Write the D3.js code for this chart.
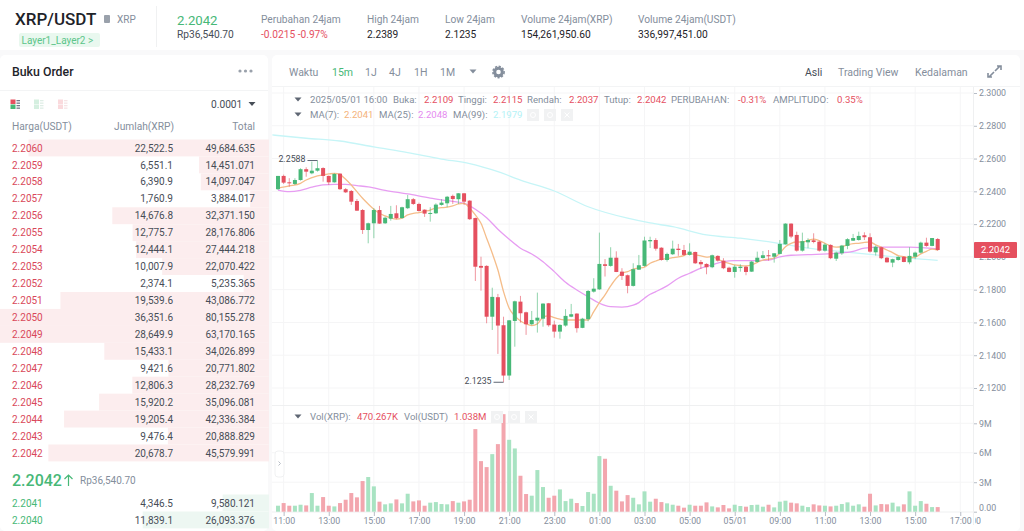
<!DOCTYPE html>
<html>
<head>
<meta charset="utf-8">
<script src="https://cdn.jsdelivr.net/npm/d3@7"></script>
<style>
html, body { margin: 0; padding: 0; background: #f9f9fa; overflow: hidden; }
svg { display: block; font-family: Roboto, "Noto Sans", sans-serif; }
.axis path { display: none; }
.axis line { stroke: #b7bdc6; }
.axis text { fill: #848e9c; font-size: 8.8px; font-family: Roboto, sans-serif; }
</style>
</head>
<body>
<svg width="1024" height="531"></svg>
<script>
var opens = [2.2413,2.2494,2.2455,2.2445,2.2469,2.2535,2.2510,2.2526,2.2542,2.2494,
    2.2455,2.2508,2.2413,2.2402,2.2341,2.2286,2.2164,2.2205,2.2286,2.2205,
    2.2233,2.2266,2.2237,2.2297,2.2352,2.2323,2.2288,2.2262,2.2266,2.2317,
    2.2327,2.2372,2.2352,2.2388,2.2343,2.2237,2.1945,2.1945,2.1635,2.1754,
    2.1583,2.1276,2.1609,2.1727,2.1662,2.1589,2.1611,2.1623,2.1717,2.1587,
    2.1544,2.1581,2.1635,2.1654,2.1567,2.1620,2.1788,2.1802,2.1955,2.1945,
    2.1995,2.1910,2.1888,2.1823,2.1922,2.1945,2.2095,2.2103,2.2056,2.1981,
    2.2016,2.2050,2.2042,2.2012,2.2030,2.1969,2.1957,2.1937,2.2006,2.1977,
    2.1934,2.1908,2.1932,2.1940,2.1910,2.1969,2.1993,2.2010,2.2001,2.2018,
    2.2077,2.2203,2.2134,2.2038,2.2089,2.2101,2.2093,2.2038,2.2073,2.1989,
    2.2022,2.2067,2.2099,2.2103,2.2132,2.2120,2.2028,2.2059,2.1995,2.1965,
    2.1981,2.2001,2.1967,2.2001,2.2026,2.2087,2.2067,2.2109];
var highs = [2.2494,2.2502,2.2480,2.2480,2.2541,2.2547,2.2581,2.2588,2.2547,2.2496,
    2.2510,2.2510,2.2420,2.2408,2.2353,2.2292,2.2209,2.2297,2.2311,2.2245,
    2.2311,2.2315,2.2306,2.2378,2.2359,2.2331,2.2290,2.2303,2.2327,2.2352,
    2.2372,2.2380,2.2389,2.2389,2.2346,2.2240,2.2001,2.1949,2.1812,2.1774,
    2.1635,2.1615,2.1733,2.1762,2.1666,2.1670,2.1782,2.1717,2.1719,2.1611,
    2.1589,2.1681,2.1713,2.1656,2.1628,2.1798,2.1870,2.2148,2.1987,2.2059,
    2.2034,2.1931,2.1892,2.1961,2.2012,2.2123,2.2123,2.2114,2.2059,2.2026,
    2.2099,2.2079,2.2073,2.2083,2.2032,2.1981,2.1961,2.2014,2.2010,2.1992,
    2.1940,2.1951,2.1955,2.1945,2.1975,2.2032,2.2036,2.2042,2.2022,2.2103,
    2.2205,2.2205,2.2154,2.2148,2.2114,2.2144,2.2099,2.2083,2.2077,2.2032,
    2.2073,2.2114,2.2140,2.2154,2.2150,2.2144,2.2069,2.2062,2.2000,2.1989,
    2.2004,2.2004,2.2059,2.2032,2.2093,2.2117,2.2115,2.2115];
var lows = [2.2408,2.2445,2.2428,2.2439,2.2465,2.2489,2.2504,2.2520,2.2459,2.2439,
    2.2453,2.2408,2.2390,2.2317,2.2280,2.2140,2.2083,2.2114,2.2201,2.2201,
    2.2221,2.2230,2.2233,2.2292,2.2317,2.2276,2.2244,2.2215,2.2262,2.2313,
    2.2303,2.2323,2.2323,2.2317,2.2225,2.1853,2.1794,2.1595,2.1554,2.1408,
    2.1235,2.1249,2.1452,2.1599,2.1524,2.1583,2.1538,2.1574,2.1574,2.1507,
    2.1501,2.1574,2.1632,2.1538,2.1565,2.1607,2.1782,2.1798,2.1880,2.1940,
    2.1907,2.1859,2.1778,2.1819,2.1920,2.1940,2.2054,2.2038,2.1977,2.1971,
    2.2012,2.2006,2.2006,2.2008,2.1957,2.1926,2.1894,2.1931,2.1971,2.1925,
    2.1906,2.1873,2.1910,2.1888,2.1908,2.1965,2.1989,2.1977,2.1965,2.2016,
    2.2075,2.2114,2.2032,2.2032,2.2053,2.2083,2.2032,2.2032,2.1986,2.1975,
    2.2012,2.2047,2.2097,2.2099,2.2103,2.2026,2.2008,2.1986,2.1965,2.1937,
    2.1977,2.1967,2.1955,2.1986,2.2022,2.2062,2.2065,2.2037];
var closes = [2.2494,2.2453,2.2449,2.2469,2.2535,2.2520,2.2526,2.2541,2.2494,2.2455,
    2.2506,2.2413,2.2394,2.2337,2.2282,2.2164,2.2205,2.2286,2.2203,2.2239,
    2.2262,2.2236,2.2303,2.2352,2.2323,2.2280,2.2264,2.2268,2.2319,2.2331,
    2.2367,2.2353,2.2388,2.2337,2.2230,2.1940,2.1934,2.1635,2.1756,2.1581,
    2.1276,2.1613,2.1729,2.1656,2.1589,2.1615,2.1629,2.1715,2.1583,2.1544,
    2.1585,2.1640,2.1650,2.1565,2.1623,2.1792,2.1806,2.1957,2.1945,2.1995,
    2.1908,2.1884,2.1823,2.1925,2.1949,2.2100,2.2103,2.2050,2.1981,2.2018,
    2.2050,2.2042,2.2012,2.2032,2.1961,2.1955,2.1937,2.2010,2.1977,2.1931,
    2.1908,2.1940,2.1940,2.1908,2.1971,2.1995,2.2010,2.2004,2.2022,2.2079,
    2.2203,2.2124,2.2038,2.2096,2.2103,2.2091,2.2038,2.2075,2.1992,2.2026,
    2.2069,2.2108,2.2115,2.2128,2.2120,2.2032,2.2062,2.1992,2.1967,2.1986,
    2.2000,2.1969,2.2006,2.2026,2.2087,2.2067,2.2115,2.2042];
// millions of XRP
var volumes = [0.61,0.88,0.61,0.61,0.71,0.64,1.90,0.61,1.49,0.61,
    0.54,0.88,1.22,1.90,1.46,3.12,3.53,2.58,1.02,0.75,
    0.85,1.25,0.85,1.83,1.05,1.15,0.61,0.92,0.98,0.78,
    0.75,1.08,0.92,1.05,1.22,8.41,5.15,4.54,5.86,6.88,
    9.93,7.32,6.44,3.66,1.80,1.63,4.24,2.51,1.42,1.63,
    2.27,1.08,1.32,0.88,0.58,2.00,1.83,5.66,5.39,2.64,
    2.14,1.05,1.69,1.42,0.75,2.07,1.02,1.32,0.98,0.85,
    0.71,0.61,0.41,0.71,0.61,0.61,0.95,0.54,0.44,0.68,
    0.34,0.71,0.58,0.51,0.68,0.71,0.51,0.71,0.44,1.02,
    1.12,0.92,0.85,0.61,0.47,0.75,0.64,0.61,0.54,0.61,
    0.78,0.95,0.61,0.75,0.51,1.83,0.64,0.78,0.75,0.92,
    0.54,0.75,2.07,0.61,1.08,0.81,0.47,0.47];

var ma7Index = [1,3,5,6,8,10,11,12,13,14,15,16,17,18,19,20,21,22,23,24,25,26,27,28,29,30,31,32,33,34,35,36,37,38,39,40,41,42,43,44,45,46,47,48,49,50,51,52,56,57,58,59,60,61,62,63,64,65,66,67,68,69,70,71,72,73,74,75,76,77,78,79,80,81,82,83,84,85,86,87,88,89,90,91,92,93,94,95,96,97,98,99,100,101,102,103,104,105,106,107,108,109,110,111,112,113,114,115,116,117,118];
var ma7Values = [2.2419,2.2433,2.2449,2.2469,2.2494,2.2506,2.2510,2.2502,2.2474,2.2439,2.2398,2.2358,2.2323,2.2291,2.2266,2.2250,2.2237,2.2230,2.2236,2.2256,2.2266,2.2270,2.2278,2.2286,2.2297,2.2300,2.2303,2.2311,2.2323,2.2327,2.2297,2.2256,2.2205,2.2114,2.2022,2.1920,2.1788,2.1687,2.1640,2.1609,2.1591,2.1581,2.1591,2.1632,2.1640,2.1629,2.1620,2.1615,2.1615,2.1666,2.1721,2.1768,2.1823,2.1870,2.1900,2.1910,2.1925,2.1931,2.1937,2.1961,2.1975,2.1986,2.1989,2.1995,2.2000,2.2008,2.2022,2.2012,2.2006,2.1998,2.2001,2.1986,2.1971,2.1961,2.1951,2.1947,2.1945,2.1951,2.1967,2.1981,2.1986,2.1995,2.2022,2.2062,2.2083,2.2091,2.2091,2.2101,2.2108,2.2099,2.2083,2.2067,2.2059,2.2062,2.2073,2.2081,2.2083,2.2089,2.2091,2.2073,2.2059,2.2042,2.2026,2.2008,2.2001,2.1995,2.1998,2.2018,2.2034,2.2047,2.2041];
var ma25Index = [1,3,5,7,9,11,13,15,17,20,24,28,31,34,36,38,40,42,44,46,48,50,52,54,56,58,60,62,64,65,66,67,68,70,72,74,76,78,80,82,85,88,90,92,95,100,103,105,108,113,118];
var ma25Values = [2.2408,2.2398,2.2406,2.2425,2.2439,2.2443,2.2443,2.2435,2.2427,2.2406,2.2384,2.2359,2.2343,2.2327,2.2291,2.2239,2.2169,2.2108,2.2053,2.2018,2.1971,2.1910,2.1845,2.1798,2.1757,2.1717,2.1696,2.1693,2.1705,2.1721,2.1748,2.1772,2.1788,2.1823,2.1870,2.1900,2.1931,2.1951,2.1971,2.1977,2.1977,2.1981,2.2000,2.2010,2.2014,2.2022,2.2034,2.2053,2.2059,2.2059,2.2048];
var ma99Index = [0,6,12,18,24,30,35,40,44,50,56,63,67,71,77,83,89,95,101,107,113,118];
var ma99Values = [2.2744,2.2724,2.2707,2.2671,2.2636,2.2597,2.2569,2.2520,2.2469,2.2402,2.2306,2.2236,2.2207,2.2184,2.2134,2.2114,2.2087,2.2053,2.2032,2.2012,2.1992,2.1979];

var priceTicks = [2.30,2.28,2.26,2.24,2.22,2.20,2.18,2.16,2.14,2.12];
var volumeTicks = [0,3,6,9];
var volumeTickLabels = ['0.00','3M','6M','9M'];
var timeLabels = ['11:00','13:00','15:00','17:00','19:00','21:00','23:00','01:00','03:00','05:00','05/01','09:00','11:00','13:00','15:00','17:00'];

var askPrices = ['2.2060','2.2059','2.2058','2.2057','2.2056','2.2055','2.2054','2.2053','2.2052','2.2051','2.2050','2.2049','2.2048','2.2047','2.2046','2.2045','2.2044','2.2043','2.2042'];
var askAmounts = ['22,522.5','6,551.1','6,390.9','1,760.9','14,676.8','12,775.7','12,444.1','10,007.9','2,374.1','19,539.6','36,351.6','28,649.9','15,433.1','9,421.6','12,806.3','15,920.2','19,205.4','9,476.4','20,678.7'];
var askTotals = [49684.635,14451.071,14097.047,3884.017,32371.150,28176.806,27444.218,22070.422,5235.365,43086.772,80155.278,63170.165,34026.899,20771.802,28232.769,35096.081,42336.384,20888.829,45579.991];
var bidPrices = ['2.2041','2.2040'];
var bidAmounts = ['4,346.5','11,839.1'];
var bidTotals = [9580.121,26093.376];

var RED = '#e5505f', GREEN = '#47b877', GREY = '#848e9c', DARK = '#474d57';

var svg = d3.select('svg');

function label(g, x, y, str, size, color, anchor, weight) {
    return g.append('text')
        .attr('x', x).attr('y', y)
        .attr('font-size', size)
        .attr('fill', color)
        .attr('text-anchor', anchor || 'start')
        .attr('font-weight', weight || 400)
        .text(str);
}

function triangle(g, x, y, color) {
    g.append('path')
        .attr('d', 'M' + (x - 3.5) + ',' + (y - 2) + 'h7l-3.5,4z')
        .attr('fill', color);
}

function iconBoxes(g, xs, y) {
    g.selectAll(null).data(xs).join('rect')
        .attr('x', function(d) { return d; }).attr('y', y)
        .attr('width', 12).attr('height', 12)
        .attr('fill', '#f1f2f3');
    g.append('circle').attr('cx', xs[0] + 6).attr('cy', y + 6).attr('r', 2.5).attr('fill', 'none').attr('stroke', '#fff');
    g.append('circle').attr('cx', xs[1] + 6).attr('cy', y + 6).attr('r', 2.5).attr('fill', 'none').attr('stroke', '#fff');
    g.append('path').attr('d', 'M' + (xs[2] + 3.5) + ',' + (y + 3.5) + 'l5,5m0,-5l-5,5').attr('stroke', '#fff');
}

function bookIcon(g, x, left1, left2, bars) {
    g.append('rect').attr('x', x).attr('y', 99.5).attr('width', 5).attr('height', 4.5).attr('fill', left1);
    g.append('rect').attr('x', x).attr('y', 104.5).attr('width', 5).attr('height', 4.5).attr('fill', left2);
    g.selectAll(null).data([100, 102.5, 105, 107.5]).join('rect')
        .attr('x', x + 6).attr('y', function(d) { return d; })
        .attr('width', 3.5).attr('height', 1.3).attr('fill', bars);
}

// panels
svg.append('rect').attr('width', 1024).attr('height', 50).attr('fill', '#fff');
svg.append('rect').attr('x', 0).attr('y', 55).attr('width', 268).attr('height', 476).attr('rx', 5).attr('fill', '#fff');
svg.append('rect').attr('x', 272).attr('y', 55).attr('width', 748).attr('height', 476).attr('rx', 5).attr('fill', '#fff');

// header
var head = svg.append('g');
label(head, 15, 25, 'XRP/USDT', 17, '#1e2329', 'start', 500);
head.append('rect').attr('x', 104).attr('y', 15).attr('width', 6).attr('height', 8).attr('rx', 1).attr('fill', '#9aa1ab');
label(head, 117, 23, 'XRP', 10, GREY);
head.append('rect').attr('x', 19).attr('y', 33).attr('width', 81).attr('height', 14).attr('rx', 2).attr('fill', '#e9f8ef');
label(head, 21.5, 44, 'Layer1_Layer2 >', 10, '#5cc58a');
head.append('line').attr('x1', 156.5).attr('x2', 156.5).attr('y1', 6).attr('y2', 47).attr('stroke', '#f0f1f2');
label(head, 177, 25, '2.2042', 13.2, GREEN);
label(head, 177, 38, 'Rp36,540.70', 10.2, DARK);
label(head, 261, 23, 'Perubahan 24jam', 10.2, GREY);
label(head, 261, 38, '-0.0215 -0.97%', 10.2, RED);
label(head, 367, 23, 'High 24jam', 10.2, GREY);
label(head, 367, 38, '2.2389', 10.2, '#1e2329');
label(head, 445, 23, 'Low 24jam', 10.2, GREY);
label(head, 445, 38, '2.1235', 10.2, '#1e2329');
label(head, 521, 23, 'Volume 24jam(XRP)', 10.2, GREY);
label(head, 521, 38, '154,261,950.60', 10.2, '#1e2329');
label(head, 638, 23, 'Volume 24jam(USDT)', 10.2, GREY);
label(head, 638, 38, '336,997,451.00', 10.2, '#1e2329');

// order book
var book = svg.append('g');
label(book, 12, 76, 'Buku Order', 12.3, '#1e2329', 'start', 500);
book.selectAll(null).data([240, 245.5, 251]).join('circle')
    .attr('cx', function(d) { return d; }).attr('cy', 71).attr('r', 1.6).attr('fill', '#9aa1ab');
book.append('line').attr('x1', 0).attr('x2', 268).attr('y1', 90.5).attr('y2', 90.5).attr('stroke', '#f3f4f5');
bookIcon(book, 10.5, '#e5505f', '#47b877', '#707a8a');
bookIcon(book, 34, '#d5efe0', '#d5efe0', '#dfeee6');
bookIcon(book, 58, '#fadadd', '#fadadd', '#f6e3e5');
label(book, 211, 108, '0.0001', 10.2, DARK);
triangle(book, 252, 104, DARK);
label(book, 12, 130, 'Harga(USDT)', 10.2, GREY);
label(book, 174, 130, 'Jumlah(XRP)', 10.2, GREY, 'end');
label(book, 255, 130, 'Total', 10.2, GREY, 'end');

var depth = d3.scaleLinear().domain([0, 55570]).range([0, 269]).clamp(true);
var askRow = d3.scalePoint().domain(d3.range(askPrices.length)).range([148, 453]);
var bidRow = d3.scalePoint().domain(d3.range(bidPrices.length)).range([503, 520]);

function drawRows(prices, amounts, totals, rowY, fill, color) {
    var rows = book.append('g').selectAll('g').data(prices).join('g');
    rows.append('rect')
        .attr('x', function(d, i) { return 269 - depth(totals[i]); })
        .attr('y', function(d, i) { return rowY(i) - 8.5; })
        .attr('width', function(d, i) { return depth(totals[i]); })
        .attr('height', 16.9)
        .attr('fill', fill);
    rows.append('text').attr('x', 12).attr('y', function(d, i) { return rowY(i) + 3.6; })
        .attr('font-size', 10).attr('fill', color).text(function(d) { return d; });
    rows.append('text').attr('x', 173).attr('y', function(d, i) { return rowY(i) + 3.6; })
        .attr('font-size', 10).attr('fill', DARK).attr('text-anchor', 'end')
        .text(function(d, i) { return amounts[i]; });
    rows.append('text').attr('x', 255).attr('y', function(d, i) { return rowY(i) + 3.6; })
        .attr('font-size', 10).attr('fill', DARK).attr('text-anchor', 'end')
        .text(function(d, i) { return d3.format(',.3f')(totals[i]); });
}
drawRows(askPrices, askAmounts, askTotals, askRow, '#fcedee', '#d9485a');
drawRows(bidPrices, bidAmounts, bidTotals, bidRow, '#edf7f2', '#47b877');

label(book, 12, 486, '2.2042', 16, GREEN, 'start', 500);
book.append('path').attr('d', 'M68.5,486v-11M64.5,479l4,-4l4,4').attr('fill', 'none').attr('stroke', GREEN).attr('stroke-width', 1.2);
label(book, 80, 484, 'Rp36,540.70', 10, GREY);

// chart toolbar
var bar = svg.append('g');
label(bar, 289, 76, 'Waktu', 10.5, GREY);
label(bar, 332, 76, '15m', 10.5, GREEN);
label(bar, 365, 76, '1J', 10.5, GREY);
label(bar, 389, 76, '4J', 10.5, GREY);
label(bar, 414, 76, '1H', 10.5, GREY);
label(bar, 440, 76, '1M', 10.5, GREY);
triangle(bar, 473, 71.5, GREY);
bar.append('circle').attr('cx', 498.5).attr('cy', 72).attr('r', 3.8).attr('fill', 'none').attr('stroke', '#848e9c').attr('stroke-width', 3);
bar.append('circle').attr('cx', 498.5).attr('cy', 72).attr('r', 5.6).attr('fill', 'none').attr('stroke', '#848e9c').attr('stroke-width', 1.6).attr('stroke-dasharray', '2.2 1.5');
label(bar, 805, 76, 'Asli', 10.5, DARK);
label(bar, 838, 76, 'Trading View', 10.5, GREY);
label(bar, 915, 76, 'Kedalaman', 10.5, GREY);
bar.append('path').attr('d', 'M995,71l5,-5M997,66h4v4M994,72l-5,5M988,73v4h4').attr('fill', 'none').attr('stroke', '#848e9c').attr('stroke-width', 1.6);
bar.append('line').attr('x1', 272).attr('x2', 1020).attr('y1', 86.5).attr('y2', 86.5).attr('stroke', '#f3f4f5');

// scales
var x = d3.scaleLinear().domain([1, 118]).range([278, 937.7]);
var y = d3.scaleLinear().domain([2.12, 2.30]).range([388, 93]);
var yVol = d3.scaleLinear().domain([0, 9]).range([511.7, 423.3]);
var timeTicks = timeLabels.map(function(d, i) { return 2 + 8 * i; });

// grid
var grid = svg.append('g').attr('stroke', '#f5f5f6');
grid.selectAll(null).data(timeTicks).join('line')
    .attr('x1', function(d) { return x(d); }).attr('x2', function(d) { return x(d); })
    .attr('y1', 87).attr('y2', 512);
grid.selectAll(null).data(priceTicks).join('line')
    .attr('x1', 272).attr('x2', 974)
    .attr('y1', function(d) { return y(d); }).attr('y2', function(d) { return y(d); });
grid.selectAll(null).data(volumeTicks.slice(1)).join('line')
    .attr('x1', 272).attr('x2', 974)
    .attr('y1', function(d) { return yVol(d); }).attr('y2', function(d) { return yVol(d); });
svg.append('line').attr('x1', 272).attr('x2', 974).attr('y1', 405.5).attr('y2', 405.5).attr('stroke', '#eff0f1');
svg.append('line').attr('x1', 272).attr('x2', 974).attr('y1', 512).attr('y2', 512).attr('stroke', '#eff0f1');
svg.append('line').attr('x1', 973.5).attr('x2', 973.5).attr('y1', 87).attr('y2', 525).attr('stroke', '#eff0f1');

// axes
svg.append('g').attr('class', 'axis').attr('transform', 'translate(974,0)')
    .call(d3.axisRight(y).tickValues(priceTicks).tickFormat(d3.format('.4f')).tickSize(3).tickPadding(2));
var volAxis = svg.append('g').attr('class', 'axis').attr('transform', 'translate(974,0)')
    .call(d3.axisRight(yVol).tickValues(volumeTicks).tickFormat(function(d, i) { return volumeTickLabels[i]; }).tickSize(3).tickPadding(2));
// the zero label sits above its tick in the reference
volAxis.selectAll('.tick text').filter(function(d) { return d === 0; }).attr('y', -4);
svg.append('g').attr('class', 'axis').attr('transform', 'translate(0,512)')
    .call(d3.axisBottom(x).tickValues(timeTicks).tickFormat(function(d, i) { return timeLabels[i]; }).tickSize(4).tickPadding(2));
// next time label is cut off by the price axis
svg.append('clipPath').attr('id', 'cut').append('rect').attr('x', 975).attr('y', 512).attr('width', 6).attr('height', 14);
label(svg, 971, 524, '00', 8.8, GREY).attr('clip-path', 'url(#cut)');

// volume
var idx = d3.range(volumes.length);
function isUp(i) { return closes[i] >= opens[i]; }
svg.append('g').selectAll('rect').data(idx).join('rect')
    .attr('x', function(i) { return x(i + 1) - 2; })
    .attr('y', function(i) { return yVol(volumes[i]); })
    .attr('width', 4)
    .attr('height', function(i) { return yVol(0) - yVol(volumes[i]); })
    .attr('fill', function(i) { return isUp(i) ? '#a8e3c2' : '#f3a6ae'; });

// moving averages
function drawMa(indexes, values, color) {
    var line = d3.line()
        .x(function(d, i) { return x(indexes[i]); })
        .y(function(d) { return y(d); })
        .curve(d3.curveMonotoneX);
    svg.append('path').datum(values)
        .attr('d', line)
        .attr('fill', 'none')
        .attr('stroke', color)
        .attr('stroke-width', 1.3);
}
drawMa(ma99Index, ma99Values, '#c6f5f7');
drawMa(ma25Index, ma25Values, '#e79df2');
drawMa(ma7Index, ma7Values, '#f5bd8a');

// candles
var candles = svg.append('g').selectAll('g').data(idx).join('g');
candles.append('line')
    .attr('x1', function(i) { return x(i + 1); }).attr('x2', function(i) { return x(i + 1); })
    .attr('y1', function(i) { return y(highs[i]); }).attr('y2', function(i) { return y(lows[i]); })
    .attr('stroke', function(i) { return isUp(i) ? GREEN : RED; })
    .attr('stroke-opacity', 0.6);
candles.append('rect')
    .attr('x', function(i) { return x(i + 1) - 2; })
    .attr('y', function(i) { return y(Math.max(opens[i], closes[i])); })
    .attr('width', 4)
    .attr('height', function(i) { return Math.max(1, Math.abs(y(opens[i]) - y(closes[i]))); })
    .attr('fill', function(i) { return isUp(i) ? GREEN : RED; });

// high and low markers
var marks = svg.append('g');
var hi = d3.max(highs), lo = d3.min(lows);
var hiX = x(highs.indexOf(hi) + 1), loX = x(lows.indexOf(lo) + 1);
label(marks, hiX - 12, y(hi) + 1.5, hi.toFixed(4), 8.8, DARK, 'end');
marks.append('line').attr('x1', hiX - 10).attr('x2', hiX).attr('y1', y(hi)).attr('y2', y(hi)).attr('stroke', '#5e6673');
label(marks, loX - 12, y(lo) + 2, lo.toFixed(4), 8.8, DARK, 'end');
marks.append('line').attr('x1', loX - 10).attr('x2', loX).attr('y1', y(lo)).attr('y2', y(lo)).attr('stroke', '#5e6673');

// last price tag
var lastClose = closes[closes.length - 1];
svg.append('rect').attr('x', 974).attr('y', y(lastClose) - 8).attr('width', 43).attr('height', 16).attr('rx', 1).attr('fill', '#e5505f');
label(svg, 995.5, y(lastClose) + 3.3, lastClose.toFixed(4), 9.5, '#fff', 'middle');

// legends
var leg = svg.append('g');
var LEG = 9.6;
triangle(leg, 298, 99.5, '#5e6673');
label(leg, 310, 103, '2025/05/01 16:00', LEG, GREY);
label(leg, 393, 103, 'Buka:', LEG, GREY);
label(leg, 424, 103, '2.2109', LEG, RED);
label(leg, 458, 103, 'Tinggi:', LEG, GREY);
label(leg, 493, 103, '2.2115', LEG, RED);
label(leg, 527, 103, 'Rendah:', LEG, GREY);
label(leg, 569, 103, '2.2037', LEG, RED);
label(leg, 604, 103, 'Tutup:', LEG, GREY);
label(leg, 637, 103, '2.2042', LEG, RED);
label(leg, 671, 103, 'PERUBAHAN:', LEG, GREY);
label(leg, 738, 103, '-0.31%', LEG, RED);
label(leg, 773, 103, 'AMPLITUDO:', LEG, GREY);
label(leg, 837, 103, '0.35%', LEG, RED);

triangle(leg, 298, 114.5, '#5e6673');
label(leg, 310, 118, 'MA(7):', LEG, GREY);
label(leg, 344, 118, '2.2041', LEG, '#f4b27a');
label(leg, 379, 118, 'MA(25):', LEG, GREY);
label(leg, 418, 118, '2.2048', LEG, '#e58af0');
label(leg, 453, 118, 'MA(99):', LEG, GREY);
label(leg, 493, 118, '2.1979', LEG, '#b4f2f6');
iconBoxes(leg, [527, 544, 561], 109);

triangle(leg, 298, 416.5, '#5e6673');
label(leg, 310, 420, 'Vol(XRP):', LEG, GREY);
label(leg, 357, 420, '470.267K', LEG, RED);
label(leg, 404, 420, 'Vol(USDT)', LEG, GREY);
label(leg, 454, 420, '1.038M', LEG, RED);
iconBoxes(leg, [491, 508, 525], 411);

leg.append('rect').attr('x', 275).attr('y', 451).attr('width', 9).attr('height', 26).attr('rx', 3)
    .attr('fill', '#fff').attr('stroke', '#f0f1f2');
leg.append('path').attr('d', 'M278.5,461.5l2,2l-2,2').attr('fill', 'none').attr('stroke', '#b7bdc6');
</script>
</body>
</html>
